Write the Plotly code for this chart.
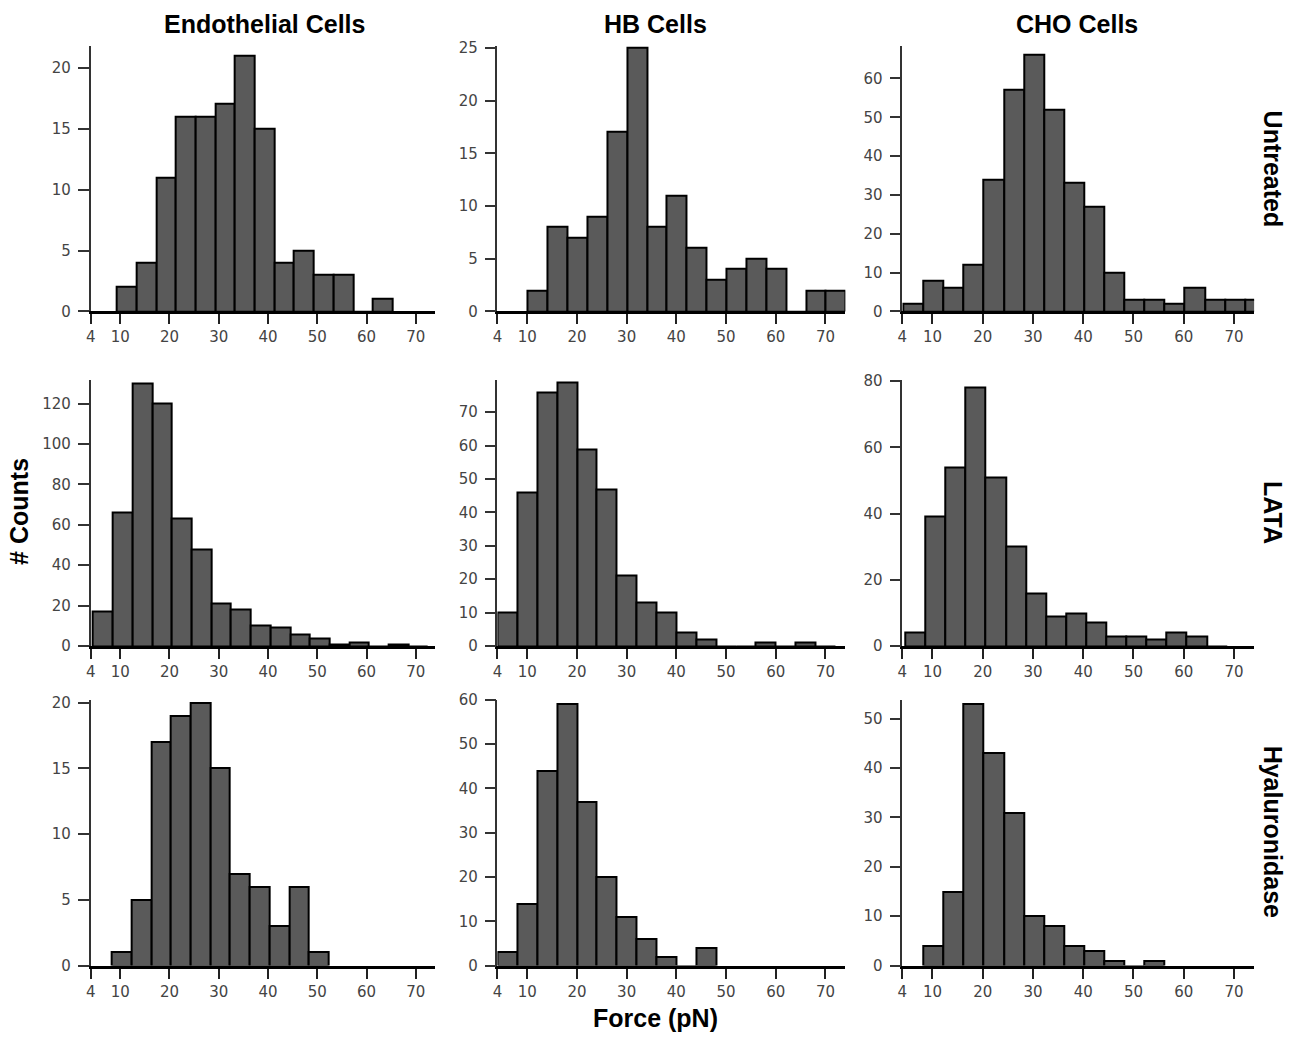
import plotly.graph_objects as go

# ---------------- data ----------------
col_titles = ["Endothelial Cells", "HB Cells", "CHO Cells"]
row_titles = ["Untreated", "LATA", "Hyaluronidase"]
x_ticks = [4, 10, 20, 30, 40, 50, 60, 70]
bin_width = 4.0

# first bin left edge (pN) for each panel
endo_untreated_start = 9.3
hb_untreated_start = 10.1
cho_untreated_start = 4.2
endo_lata_start = 4.5
hb_lata_start = 4.0
cho_lata_start = 4.6
endo_hya_start = 8.3
hb_hya_start = 4.0
cho_hya_start = 8.2

# counts per bin
endo_untreated = [2, 4, 11, 16, 16, 17, 21, 15, 4, 5, 3, 3, 0, 1]
hb_untreated = [2, 8, 7, 9, 17, 25, 8, 11, 6, 3, 4, 5, 4, 0, 2, 2]
cho_untreated = [2, 8, 6, 12, 34, 57, 66, 52, 33, 27, 10, 3, 3, 2, 6, 3, 3, 3]
endo_lata = [17, 66, 130, 120, 63, 48, 21, 18, 10, 9, 6, 4, 1, 2, 0, 1, 0]
hb_lata = [10, 46, 76, 79, 59, 47, 21, 13, 10, 4, 2, 0, 0, 1, 0, 1, 0]
cho_lata = [4, 39, 54, 78, 51, 30, 16, 9, 10, 7, 3, 3, 2, 4, 3, 0]
endo_hya = [1, 5, 17, 19, 20, 15, 7, 6, 3, 6, 1]
hb_hya = [3, 14, 44, 59, 37, 20, 11, 6, 2, 0, 4]
cho_hya = [4, 15, 53, 43, 31, 10, 8, 4, 3, 1, 0, 1]

# y-axis tops and tick steps
y_max = [[21.8, 25.2, 68.4], [131.5, 79.5, 80.2], [20.2, 60, 53.8]]
y_dtick = [[5, 5, 10], [20, 10, 20], [5, 10, 10]]

panels = [
    [(endo_untreated_start, endo_untreated), (hb_untreated_start, hb_untreated), (cho_untreated_start, cho_untreated)],
    [(endo_lata_start, endo_lata), (hb_lata_start, hb_lata), (cho_lata_start, cho_lata)],
    [(endo_hya_start, endo_hya), (hb_hya_start, hb_hya), (cho_hya_start, cho_hya)],
]

# ---------------- layout geometry ----------------
W, H = 1293, 1037
# target positions in picture pixels
col_px = [(90, 435), (497, 845), (902, 1254)]
row_px = [(45, 311), (380, 646), (700, 966)]


# picture pixels -> page pixels (measured correction of the photographed page)
def fx(x):
    return (x - 4.3) / 0.9966


def fy(y):
    return (y - 8.1) / 0.984


def px(xp):
    return fx(xp) / W


def py(yp):
    return 1 - fy(yp) / H


fig = go.Figure()
layout = dict(
    width=W, height=H,
    margin=dict(l=0, r=0, t=0, b=0),
    paper_bgcolor="white", plot_bgcolor="white",
    showlegend=False, bargap=0,
)

tick_font = dict(family="DejaVu Sans", size=15, color="#444444")

for r in range(3):
    for c in range(3):
        k = r * 3 + c + 1
        xa = "xaxis" if k == 1 else f"xaxis{k}"
        ya = "yaxis" if k == 1 else f"yaxis{k}"
        xref = "x" if k == 1 else f"x{k}"
        yref = "y" if k == 1 else f"y{k}"
        start, counts = panels[r][c]
        centers = [start + bin_width * (i + 0.5) for i in range(len(counts))]
        fig.add_trace(go.Bar(
            x=centers, y=counts, width=bin_width,
            marker=dict(color="#5a5a5a", line=dict(color="black", width=2)),
            xaxis=xref, yaxis=yref, hoverinfo="x+y",
        ))
        x0, x1 = col_px[c]
        t, b = row_px[r]
        layout[xa] = dict(
            domain=[px(x0), px(x1)], anchor=yref, range=[4, 74],
            tickmode="array", tickvals=x_ticks, ticktext=[str(v) for v in x_ticks],
            ticks="outside", ticklen=10, tickwidth=1.5, tickcolor="#222",
            showline=True, linecolor="black", linewidth=3,
            showgrid=False, zeroline=False, tickfont=tick_font, fixedrange=True,
        )
        layout[ya] = dict(
            domain=[py(b), py(t)], anchor=xref, range=[0, y_max[r][c]],
            tick0=0, dtick=y_dtick[r][c],
            ticks="outside", ticklen=11, tickwidth=1.5, tickcolor="#333",
            ticklabelstandoff=4,
            showline=True, linecolor="#333", linewidth=1.5,
            showgrid=False, zeroline=False, tickfont=tick_font, fixedrange=True,
        )

title_font = dict(family="Liberation Sans", size=25, color="black", weight="bold")
annotations = []
col_centers = [264, 655, 1077]
for c, txt in enumerate(col_titles):
    annotations.append(dict(text=txt, x=px(col_centers[c]), y=py(23), xref="paper", yref="paper",
                            showarrow=False, font=title_font, xanchor="center", yanchor="middle"))
row_centers = [168, 512, 832]
for r, txt in enumerate(row_titles):
    annotations.append(dict(text=txt, x=px(1273), y=py(row_centers[r]), xref="paper", yref="paper",
                            showarrow=False, font=title_font, textangle=90,
                            xanchor="center", yanchor="middle"))
annotations.append(dict(text="# Counts", x=px(19), y=py(511), xref="paper", yref="paper",
                        showarrow=False, font=title_font, textangle=-90,
                        xanchor="center", yanchor="middle"))
annotations.append(dict(text="Force (pN)", x=px(655), y=1 - 1027 / H, xref="paper", yref="paper",
                        showarrow=False, font=title_font, xanchor="center", yanchor="middle"))
layout["annotations"] = annotations

fig.update_layout(**layout)
fig.write_html(
    "out.html",
    config={"displayModeBar": False},
    post_script="document.documentElement.style.margin='0';document.body.style.margin='0';"
                "document.body.style.overflow='hidden';",
)
